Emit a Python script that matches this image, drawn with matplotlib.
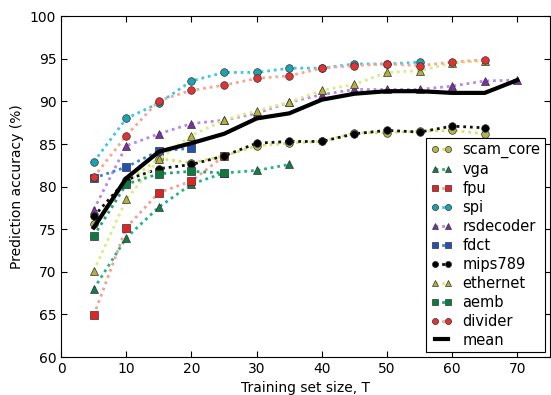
import matplotlib
matplotlib.use("Agg")
import matplotlib.pyplot as plt

x_all = [5, 10, 15, 20, 25, 30, 35, 40, 45, 50, 55, 60, 65, 70]

scam_core = [75.6, 80.5, 83.3, 82.8, 83.6, 84.8, 85.1, 85.3, 86.3, 86.35, 86.5, 86.6, 86.2]
vga = [68.0, 74.0, 77.6, 80.3, 81.6, 81.9, 82.6]
fpu = [64.9, 75.2, 79.3, 80.65, 83.6]
spi = [82.9, 88.0, 89.8, 92.4, 93.4, 93.4, 93.9, 93.9, 94.4, 94.4, 94.6]
rsdecoder = [77.3, 84.8, 86.2, 87.4, 87.8, 88.6, 89.9, 90.8, 91.4, 91.4, 91.4, 91.8, 92.4, 92.5]
fdct = [81.0, 82.3, 84.2, 84.5]
mips789 = [76.5, 80.8, 82.1, 82.6, 83.6, 85.1, 85.3, 85.3, 86.2, 86.6, 86.4, 87.1, 86.9]
ethernet = [70.1, 78.5, 83.2, 86.0, 87.8, 88.9, 89.9, 91.3, 92.0, 93.4, 93.6, 94.5, 94.8]
aemb = [74.2, 80.3, 81.5, 81.8, 81.6]
divider = [81.1, 86.0, 90.1, 91.3, 91.9, 92.7, 93.0, 93.9, 94.2, 94.4, 94.2, 94.6, 94.9]
mean = [75.2, 81.0, 84.1, 85.1, 86.2, 88.0, 88.6, 90.2, 90.9, 91.2, 91.2, 91.0, 91.0, 92.5]

series = [
    ("scam_core", scam_core, "o", "#d2e46a", "#b4b648"),
    ("vga", vga, "^", "#22b484", "#177a4c"),
    ("fpu", fpu, "s", "#f4a090", "#e02424"),
    ("spi", spi, "o", "#3cc8e4", "#1ea2b0"),
    ("rsdecoder", rsdecoder, "^", "#b888e8", "#7e30a0"),
    ("fdct", fdct, "s", "#3484e0", "#2450b0"),
    ("mips789", mips789, "o", "#111111", "#000000"),
    ("ethernet", ethernet, "^", "#d8ec88", "#b4b040"),
    ("aemb", aemb, "s", "#22a478", "#0e7a40"),
    ("divider", divider, "o", "#f6a696", "#e03434"),
]

plt.rcParams['font.family'] = ['DejaVu Sans']
fig = plt.figure(figsize=(5.51, 3.95), dpi=100)
ax = fig.add_axes([0.111, 0.096, 0.887, 0.863])

for name, vals, mk, lc, mc in series:
    ax.plot(x_all[:len(vals)], vals, linestyle=(0, (1, 1.4)), linewidth=2.0, color=lc,
            marker=mk, markersize=5.5, markerfacecolor=mc,
            markeredgecolor="#333333", markeredgewidth=0.5, label=name)

ax.plot(x_all[:len(mean)], mean, color="black", linewidth=3, label="mean")

ax.set_xlim(0, 75)
ax.set_ylim(60, 100)
ax.set_xticks(range(0, 71, 10))
ax.set_yticks(range(60, 101, 5))
ax.tick_params(direction="in", top=True, right=True, length=4, labelsize=10)
ax.set_xlabel("Training set size, T", fontsize=10)
ax.set_ylabel("Prediction accuracy (%)", fontsize=10)

leg = ax.legend(loc="lower right", numpoints=2, fontsize=10.5, fancybox=False,
                framealpha=1, edgecolor="black", borderaxespad=0.35,
                handlelength=1.5, handletextpad=0.7, labelspacing=0.27,
                borderpad=0.3, markerscale=0.8)
leg.get_frame().set_linewidth(0.8)

fig.savefig("out.png", dpi=100)
